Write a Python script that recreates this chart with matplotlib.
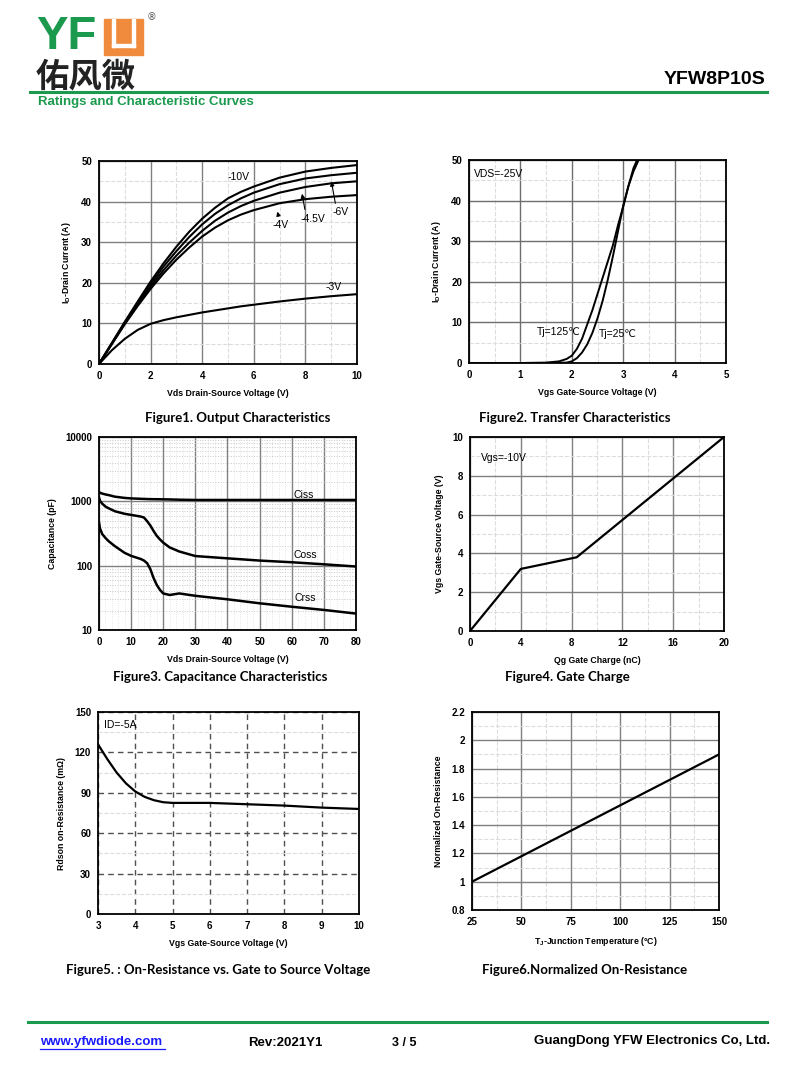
import numpy as np
import matplotlib.pyplot as plt
from matplotlib.patches import Rectangle
from matplotlib.ticker import MultipleLocator, FixedLocator, NullFormatter

# =========================
# DATA
# =========================
# Figure 1 - output characteristics
vds = [0, 0.5, 1, 1.5, 2, 2.5, 3, 3.5, 4, 4.5, 5, 5.5, 6, 7, 8, 9, 10]
id_10v = [0, 5.2, 10.4, 15.4, 20.3, 24.8, 28.9, 32.6, 35.8, 38.5, 40.8, 42.4, 43.7, 45.9, 47.4, 48.3, 49.0]
id_6v = [0, 5.1, 10.2, 15.0, 19.7, 24.0, 27.8, 31.3, 34.4, 37.0, 39.1, 40.8, 42.2, 44.3, 45.7, 46.5, 47.1]
id_45v = [0, 5.0, 10.0, 14.6, 19.1, 23.1, 26.7, 29.9, 32.8, 35.3, 37.3, 38.9, 40.2, 42.2, 43.6, 44.5, 45.0]
id_4v = [0, 4.9, 9.8, 14.3, 18.5, 22.3, 25.7, 28.7, 31.4, 33.6, 35.4, 36.8, 37.9, 39.6, 40.6, 41.2, 41.6]
id_3v = [0, 3.4, 6.2, 8.4, 9.9, 10.8, 11.5, 12.1, 12.7, 13.2, 13.7, 14.2, 14.6, 15.4, 16.1, 16.7, 17.2]

# Figure 2 - transfer characteristics
vgs_125 = [0, 1.0, 1.5, 1.75, 1.9, 2.0, 2.1, 2.2, 2.3, 2.4, 2.5, 2.6, 2.7, 2.8, 2.9, 3.0, 3.1, 3.2, 3.27]
id_125 = [0, 0, 0.1, 0.4, 1.0, 1.8, 3.5, 6.0, 9.5, 13.0, 17.0, 21.0, 25.0, 29.0, 34.0, 38.5, 43.5, 48.0, 50]
vgs_25 = [0, 1.5, 1.9, 2.0, 2.1, 2.2, 2.3, 2.4, 2.5, 2.6, 2.7, 2.8, 2.9, 3.0, 3.1, 3.2, 3.3]
id_25 = [0, 0, 0.1, 0.4, 1.2, 2.6, 4.6, 7.4, 11.0, 15.3, 20.5, 26.3, 32.5, 38.7, 43.5, 47.2, 50]

# Figure 3 - capacitance
v_cap = [0, 0.3, 1, 2, 3, 5, 8, 10, 13, 14, 15, 16, 17, 18, 19, 20, 22, 25, 30, 40, 50, 60, 70, 80]
ciss = [1400, 1360, 1320, 1280, 1250, 1180, 1130, 1110, 1095, 1090, 1085, 1082, 1080, 1078, 1076, 1075, 1070, 1060, 1050, 1050, 1050, 1050, 1050, 1050]
coss = [1150, 1020, 920, 830, 780, 700, 640, 615, 580, 560, 490, 420, 345, 290, 255, 228, 192, 166, 141, 130, 120, 113, 105, 97]
crss = [470, 380, 310, 270, 240, 200, 158, 142, 127, 120, 109, 88, 64, 50, 42, 37, 35, 37, 34, 30, 26, 23, 20.5, 18]

# Figure 4 - gate charge
qg = [0, 4, 8.4, 20]
vgs_qg = [0, 3.2, 3.8, 10]

# Figure 5 - on-resistance vs Vgs
vgs_r = [3, 3.25, 3.5, 3.75, 4, 4.25, 4.5, 4.75, 5, 6, 7, 8, 9, 10]
rdson = [126, 115, 105, 97, 91, 87, 84.5, 83, 82.5, 82.5, 81.5, 80.5, 79, 78]

# Figure 6 - normalized on-resistance
tj = [25, 150]
rnorm = [1.0, 1.9]

GREEN = '#1b9a4e'
ORANGE = '#f08a3c'
TICK_FONT = ['Liberation Sans', 'DejaVu Sans']

fig = plt.figure(figsize=(8, 10.8), dpi=100)

# page axes in pixel coordinates for header / footer
page = fig.add_axes([0, 0, 1, 1], zorder=-1)
page.set_xlim(0, 800)
page.set_ylim(1080, 0)
page.axis('off')


def px_axes(x0, y0, x1, y1):
    return fig.add_axes([x0 / 800, 1 - y1 / 1080, (x1 - x0) / 800, (y1 - y0) / 1080])


def style(ax, xmaj, ymaj, xmin=None, ymin=None, major_ls='-', major_col='#808080'):
    ax.xaxis.set_major_locator(MultipleLocator(xmaj))
    ax.yaxis.set_major_locator(MultipleLocator(ymaj))
    if xmin:
        ax.xaxis.set_minor_locator(MultipleLocator(xmin))
    if ymin:
        ax.yaxis.set_minor_locator(MultipleLocator(ymin))
    ax.grid(True, which='major', color=major_col, lw=1.0, ls=major_ls)
    ax.grid(True, which='minor', color='#dcdcdc', lw=0.8, ls='--')
    ax.tick_params(which='both', length=0, pad=5)
    ax.set_axisbelow(True)
    for lab in ax.get_xticklabels() + ax.get_yticklabels():
        lab.set_family(TICK_FONT)
        lab.set_fontweight('bold')
        lab.set_fontsize(7)
    for s in ax.spines.values():
        s.set_linewidth(1.3)
        s.set_color('black')


def axlabels(ax, xl, yl):
    ax.set_xlabel(xl, family=TICK_FONT, fontweight='bold', fontsize=6.3, labelpad=6)
    ax.set_ylabel(yl, family=TICK_FONT, fontweight='bold', fontsize=6.3, labelpad=6)


def caption(x, y, s):
    page.text(x, y, s, family=['Lato', 'DejaVu Sans'], fontweight='bold', fontsize=9.5,
              ha='center', va='center')


# =========================
# FIGURE 1
# =========================
ax1 = px_axes(99, 161, 357, 364)
for ys in [id_10v, id_6v, id_45v, id_4v, id_3v]:
    ax1.plot(vds, ys, color='black', lw=1.5)
ax1.set_xlim(0, 10)
ax1.set_ylim(0, 50)
style(ax1, 2, 10, 1, 5)
axlabels(ax1, 'Vds Drain-Source Voltage (V)', r'I$_\mathregular{D}$-Drain Current (A)')
lab_kw = dict(family=TICK_FONT, fontsize=7.5)
ax1.text(5.4, 46, '-10V', ha='center', va='center', **lab_kw)
ax1.text(9.35, 37.5, '-6V', ha='center', va='center', **lab_kw)
ax1.text(8.3, 35.8, '-4.5V', ha='center', va='center', **lab_kw)
ax1.text(7.05, 34.2, '-4V', ha='center', va='center', **lab_kw)
ax1.text(9.1, 19, '-3V', ha='center', va='center', **lab_kw)
arrow = dict(arrowstyle='-|>', color='black', lw=0.8, mutation_scale=6)
ax1.annotate('', xy=(8.99, 45.6), xytext=(9.18, 38.9), arrowprops=arrow)
ax1.annotate('', xy=(7.85, 42.6), xytext=(8.0, 37.4), arrowprops=arrow)
ax1.annotate('', xy=(6.89, 38.2), xytext=(6.98, 35.8), arrowprops=arrow)
caption(238, 418, 'Figure1. Output Characteristics')

# =========================
# FIGURE 2
# =========================
ax2 = px_axes(469, 160, 726, 363)
ax2.plot(vgs_125, id_125, color='black', lw=1.4)
ax2.plot(vgs_25, id_25, color='black', lw=1.4)
ax2.set_xlim(0, 5)
ax2.set_ylim(0, 50)
style(ax2, 1, 10, 0.5, 5, major_col='#6e6e6e')
axlabels(ax2, 'Vgs Gate-Source Voltage (V)', r'I$_\mathregular{D}$-Drain Current (A)')
ax2.text(0.1, 46.5, 'VDS=-25V', ha='left', va='center', **lab_kw)
ax2.text(1.75, 7.6, 'Tj=125℃', ha='center', va='center', **lab_kw)
ax2.text(2.9, 7.2, 'Tj=25℃', ha='center', va='center', **lab_kw)
caption(575, 418, 'Figure2. Transfer Characteristics')

# =========================
# FIGURE 3
# =========================
ax3 = px_axes(99, 437, 356, 630)
ax3.plot(v_cap, ciss, color='black', lw=1.8)
ax3.plot(v_cap, coss, color='black', lw=1.8)
ax3.plot(v_cap, crss, color='black', lw=1.8)
ax3.set_yscale('log')
ax3.set_xlim(0, 80)
ax3.set_ylim(10, 10000)
ax3.xaxis.set_major_locator(MultipleLocator(10))
ax3.yaxis.set_major_locator(FixedLocator([10, 100, 1000, 10000]))
ax3.set_yticklabels(['10', '100', '1000', '10000'])
ax3.yaxis.set_minor_locator(FixedLocator([m * 10 ** d for d in range(1, 4) for m in range(2, 10)]))
ax3.yaxis.set_minor_formatter(NullFormatter())
ax3.xaxis.set_minor_locator(MultipleLocator(2))
ax3.grid(True, which='major', color='#808080', lw=1.0)
ax3.grid(True, which='minor', axis='y', color='#c8c8c8', lw=0.7, ls=':')
ax3.grid(True, which='minor', axis='x', color='#e0e0e0', lw=0.6, ls=':')
ax3.tick_params(which='both', length=0, pad=5)
ax3.set_axisbelow(True)
for lab in ax3.get_xticklabels() + ax3.get_yticklabels():
    lab.set_family(TICK_FONT)
    lab.set_fontweight('bold')
    lab.set_fontsize(7)
for s in ax3.spines.values():
    s.set_linewidth(1.3)
axlabels(ax3, 'Vds Drain-Source Voltage (V)', 'Capacitance (pF)')
ax3.text(63.6, 1260, 'Ciss', ha='center', va='center', **lab_kw)
ax3.text(64.3, 147, 'Coss', ha='center', va='center', **lab_kw)
ax3.text(64.3, 31, 'Crss', ha='center', va='center', **lab_kw)
caption(220, 677, 'Figure3. Capacitance Characteristics')

# =========================
# FIGURE 4
# =========================
ax4 = px_axes(470, 437, 724, 631)
ax4.plot(qg, vgs_qg, color='black', lw=1.6)
ax4.set_xlim(0, 20)
ax4.set_ylim(0, 10)
style(ax4, 4, 2, 2, 1)
axlabels(ax4, 'Qg Gate Charge (nC)', 'Vgs Gate-Source Voltage (V)')
ax4.text(0.9, 8.9, 'Vgs=-10V', ha='left', va='center', **lab_kw)
caption(567, 677, 'Figure4. Gate Charge')

# =========================
# FIGURE 5
# =========================
ax5 = px_axes(98, 712, 359, 914)
ax5.plot(vgs_r, rdson, color='black', lw=1.6)
ax5.set_xlim(3, 10)
ax5.set_ylim(0, 150)
style(ax5, 1, 30, None, 15, major_ls=(0, (4, 3)), major_col='#505050')
axlabels(ax5, 'Vgs Gate-Source Voltage (V)', 'Rdson on-Resistance (mΩ)')
ax5.text(3.17, 140, 'ID=-5A', ha='left', va='center', **lab_kw)
caption(218, 970, 'Figure5. : On-Resistance vs. Gate to Source Voltage')

# =========================
# FIGURE 6
# =========================
ax6 = px_axes(472, 712, 719, 910)
ax6.plot(tj, rnorm, color='black', lw=1.6)
ax6.set_xlim(25, 150)
ax6.set_ylim(0.8, 2.2)
style(ax6, 25, 0.2, 12.5, 0.1)
ax6.set_yticks([0.8, 1.0, 1.2, 1.4, 1.6, 1.8, 2.0, 2.2])
ax6.set_yticklabels(['0.8', '1', '1.2', '1.4', '1.6', '1.8', '2', '2.2'],
                    family=TICK_FONT, fontweight='bold', fontsize=7)
axlabels(ax6, r'T$_\mathregular{J}$-Junction Temperature (°C)', 'Normalized On-Resistance')
caption(585, 970, 'Figure6.Normalized On-Resistance')

# =========================
# HEADER / FOOTER
# =========================
page.text(36, 37, 'YF', color=GREEN, family='Liberation Sans', fontweight='bold',
          fontsize=34, ha='left', va='center')
page.add_patch(Rectangle((104, 19), 39, 36, color=ORANGE))
page.add_patch(Rectangle((112, 19), 3, 28, color='white'))
page.add_patch(Rectangle((132, 19), 3, 28, color='white'))
page.add_patch(Rectangle((112, 44), 23, 3, color='white'))
page.text(147, 17, '®', color='#555555', fontsize=7, ha='left', va='center')
page.text(36, 77, '佑风微', family=['Noto Sans CJK SC', 'DejaVu Sans'], fontweight='bold',
          fontsize=24, ha='left', va='center', color='#222222')
page.text(765, 80, 'YFW8P10S', family='Liberation Sans', fontweight='bold',
          fontsize=14, ha='right', va='center')
page.plot([30, 767], [92, 92], color=GREEN, lw=2.2)
page.text(38, 102, 'Ratings and Characteristic Curves', color=GREEN, family='Liberation Sans',
          fontweight='bold', fontsize=9.5, ha='left', va='center')

page.plot([28, 767], [1022, 1022], color=GREEN, lw=2.2)
page.text(40, 1042, 'www.yfwdiode.com', color='#1a1aff', family='Liberation Sans',
          fontweight='bold', fontsize=9.5, ha='left', va='center')
page.plot([40, 165], [1049, 1049], color='#1a1aff', lw=0.9)
page.text(248, 1043, 'Rev:2021Y1', family='Liberation Sans', fontweight='bold',
          fontsize=9.5, ha='left', va='center')
page.text(392, 1043, '3 / 5', family='Liberation Sans', fontweight='bold',
          fontsize=9, ha='left', va='center')
page.text(770, 1041, 'GuangDong YFW Electronics Co, Ltd.', family='Liberation Sans',
          fontweight='bold', fontsize=9.5, ha='right', va='center')

fig.savefig('out.png', dpi=100)
